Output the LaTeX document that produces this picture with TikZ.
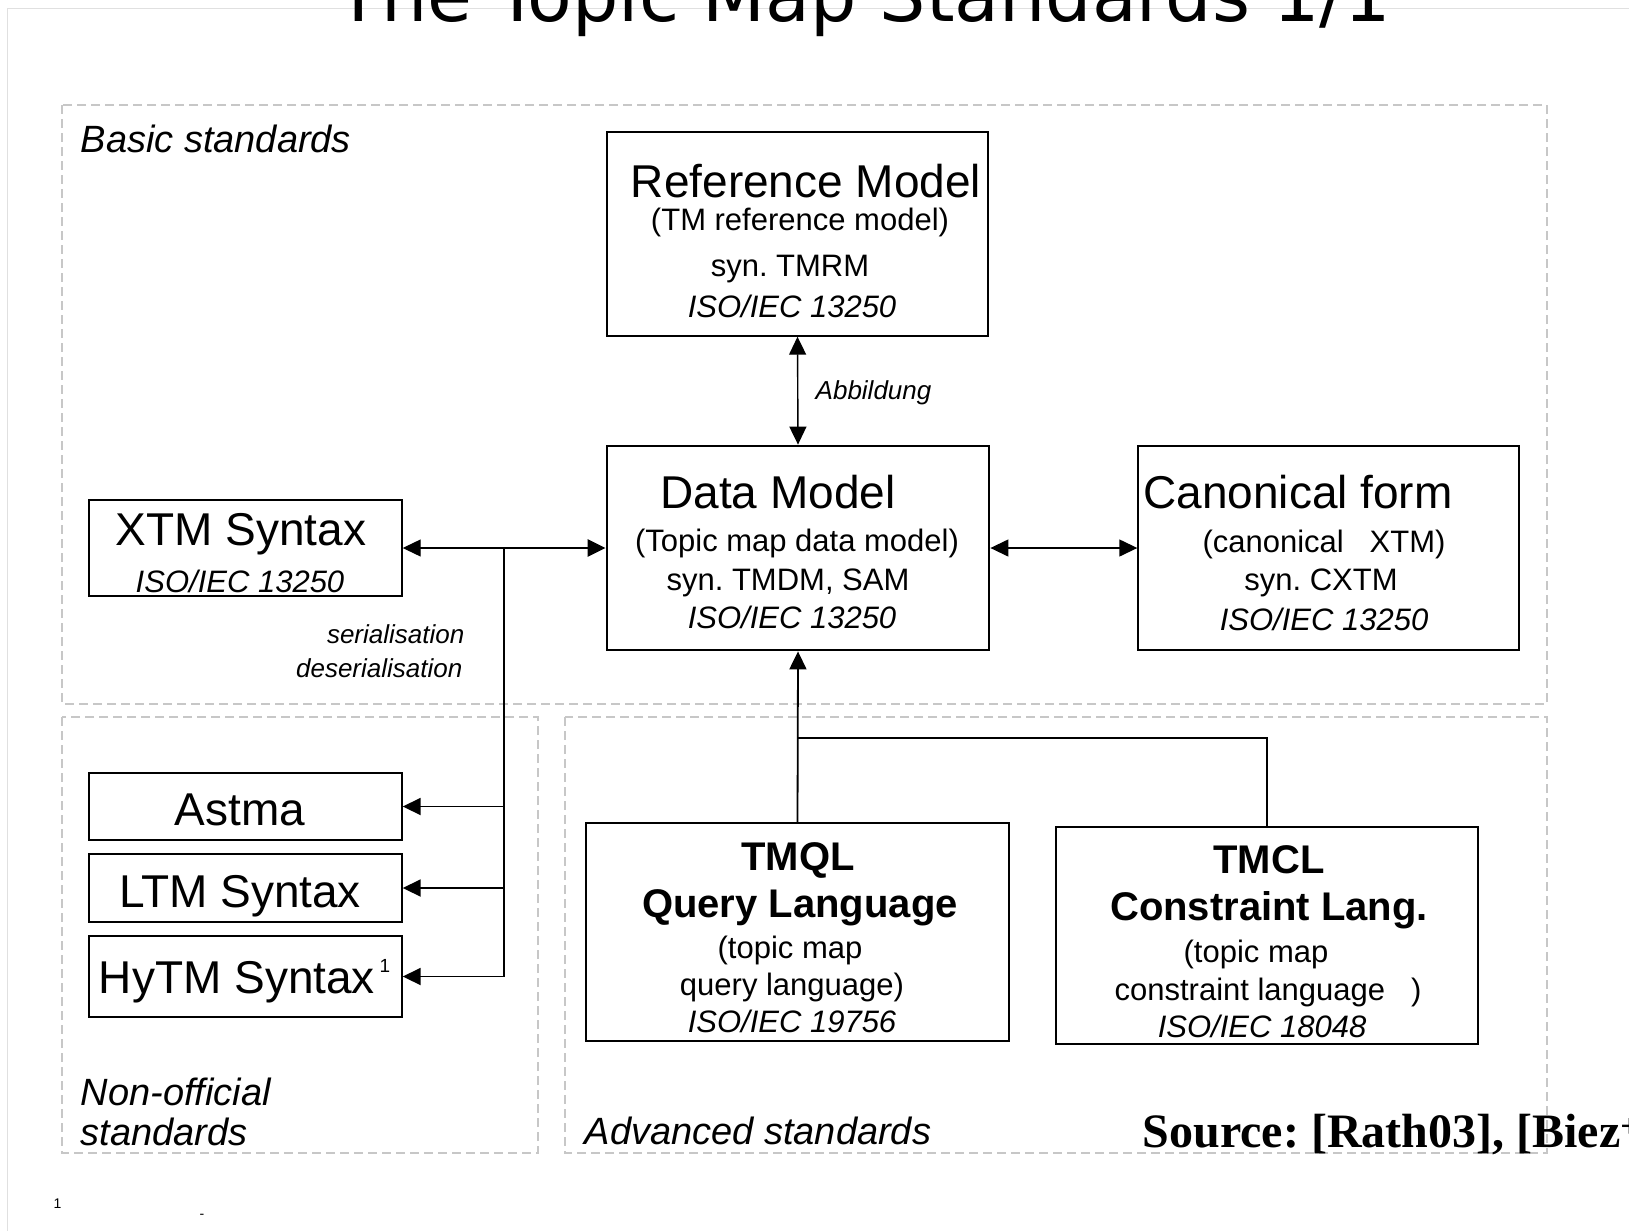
\documentclass[tikz,border=0pt]{standalone}
\usepackage{fontspec}
\setmainfont{Liberation Sans}
\newfontfamily\titlefont{DejaVu Sans}
\newfontfamily\sourcefont{Liberation Serif}
\usepackage{tikz}
\usetikzlibrary{arrows.meta,fit}
\frenchspacing

\begin{document}
\begin{tikzpicture}[x=1pt,y=-1pt,line width=1.4pt,
    >={Triangle[length=18pt,width=17pt]},
    box/.style={draw,inner sep=0pt,line width=1.4pt},
    bigtxt/.style={anchor=base,inner sep=0pt,font=\fontsize{46}{50}\selectfont},
    smalltxt/.style={anchor=base,inner sep=0pt,font=\fontsize{31}{36}\selectfont},
    isotxt/.style={anchor=base,inner sep=0pt,font=\fontsize{31}{36}\selectfont\itshape},
    boldtxt/.style={anchor=base,inner sep=0pt,font=\fontsize{40}{44}\selectfont\bfseries},
    regiontxt/.style={anchor=base west,inner sep=0pt,font=\fontsize{38}{42}\selectfont\itshape},
    notetxt/.style={inner sep=0pt,font=\fontsize{26}{30}\selectfont\itshape},
    region/.style={draw=black!22,line width=1.5pt,dash pattern=on 9pt off 5pt}]

    \useasboundingbox (0,0) rectangle (1629,1231);
    \clip (0,0) rectangle (1629,1231);

    % slide frame and title
    \draw[black!12,line width=1pt] (7,1231) -- (7,9) -- (1629,9);
    \node[anchor=base west,inner sep=0pt,font=\titlefont\fontsize{73}{80}\selectfont] (title) at (336,22) {The Topic Map Standards 1/1};

    % regions
    \draw[region] (62,105) rectangle (1547,704);
    \draw[region] (62,717) rectangle (538,1153);
    \draw[region] (565,717) rectangle (1547,1153);

    \node[regiontxt] (basic) at (80,152) {Basic standards};
    \node[regiontxt] (nonoff) at (80,1105) {Non-official};
    \node[regiontxt] (nonoff2) at (80,1145) {standards};
    \node[regiontxt] (advanced) at (584,1144) {Advanced standards};

    % boxes
    \node[box,fit={(607,132) (988,336)}] (ref) {};
    \node[box,line width=2.8pt,fit={(607,446) (989,650)}] (data) {};
    \node[box,fit={(1138,446) (1519,650)}] (canon) {};
    \node[box,fit={(89,500) (402,596)}] (xtm) {};
    \node[box,fit={(89,773) (402,840)}] (astma) {};
    \node[box,fit={(89,854) (402,922)}] (ltm) {};
    \node[box,fit={(89,936) (402,1017)}] (hytm) {};
    \node[box,fit={(586,823) (1009,1041)}] (tmql) {};
    \node[box,fit={(1056,827) (1478,1044)}] (tmcl) {};

    % texts of the boxes
    \node[bigtxt]   (refA) at (806,197) {Reference Model};
    \node[smalltxt] (refB) at (800,230) {(TM reference model)};
    \node[smalltxt] (refC) at (790,276) {syn. TMRM};
    \node[isotxt]   (refD) at (792,317) {ISO/IEC 13250};

    \node[bigtxt]   (dataA) at (778,508) {Data Model};
    \node[smalltxt] (dataB) at (797,551) {(Topic map data model)};
    \node[smalltxt] (dataC) at (788,590) {syn. TMDM, SAM};
    \node[isotxt]   (dataD) at (792,628) {ISO/IEC 13250};

    \node[bigtxt]   (canonA) at (1298,508) {Canonical form};
    \node[smalltxt] (canonB) at (1324,552) {(canonical~~~XTM)};
    \node[smalltxt] (canonC) at (1321,590) {syn. CXTM};
    \node[isotxt]   (canonD) at (1324,630) {ISO/IEC 13250};

    \node[bigtxt] (xtmA) at (241,545) {XTM Syntax};
    \node[isotxt] (xtmB) at (240,592) {ISO/IEC 13250};
    \node[bigtxt] (astmaA) at (240,825) {Astma};
    \node[bigtxt] (ltmA) at (240,907) {LTM Syntax};
    \node[bigtxt] (hytmA) at (237,993) {HyTM Syntax};
    \node[anchor=base west,inner sep=0pt,font=\fontsize{19}{22}\selectfont] (hytmN) at (379,972) {1};

    \node[boldtxt]  (tmqlA) at (798,870) {TMQL};
    \node[boldtxt]  (tmqlB) at (800,917) {Query Language};
    \node[smalltxt] (tmqlC) at (790,958) {(topic map};
    \node[smalltxt] (tmqlD) at (792,995) {query language)};
    \node[isotxt]   (tmqlE) at (792,1032) {ISO/IEC 19756};

    \node[boldtxt]  (tmclA) at (1269,873) {TMCL};
    \node[boldtxt]  (tmclB) at (1269,920) {Constraint Lang.};
    \node[smalltxt] (tmclC) at (1256,962) {(topic map};
    \node[smalltxt] (tmclD) at (1268,1000) {constraint language~~~)};
    \node[isotxt]   (tmclE) at (1262,1037) {ISO/IEC 18048};

    % connectors
    \coordinate (bus) at (504,548);
    \coordinate (busend) at (504,977);
    \coordinate (join) at (797.5,738);

    \draw[<->] (ref.south) -- (data.north);
    \node[notetxt,anchor=base west] (abb) at (815,399) {Abbildung};
    \draw[<->] (data.east) -- (canon.west);

    \draw[->,line width=1.2pt] (bus) -- (xtm.east);
    \draw[->,line width=2.6pt] (bus) -- (data.west);
    \draw[line width=2.6pt] (bus) -- (busend);
    \foreach \tgt in {astma,ltm,hytm}
      \draw[->,line width=1.8pt] (bus |- \tgt.east) -- (\tgt.east);
    \node[notetxt,anchor=base east] (ser) at (465,643) {serialisation};
    \node[notetxt,anchor=base east] (deser) at (463,677) {deserialisation};

    \draw[->,line width=1.8pt] (tmql.north) -- (data.south);
    \draw[line width=1.5pt] (tmcl.north) |- (join);

    % source and footnote
    \node[anchor=base west,inner sep=0pt,font=\sourcefont\bfseries\fontsize{48}{52}\selectfont] (src) at (1142,1147) {Source: [Rath03], [Biez\textsuperscript{+}};
    \node[anchor=base west,inner sep=0pt,font=\fontsize{14}{16}\selectfont] (fnum) at (53,1208) {1};
    \node[anchor=base west,inner sep=0pt,font=\fontsize{14}{16}\selectfont] (fdash) at (199,1218) {-};

\end{tikzpicture}
\end{document}
